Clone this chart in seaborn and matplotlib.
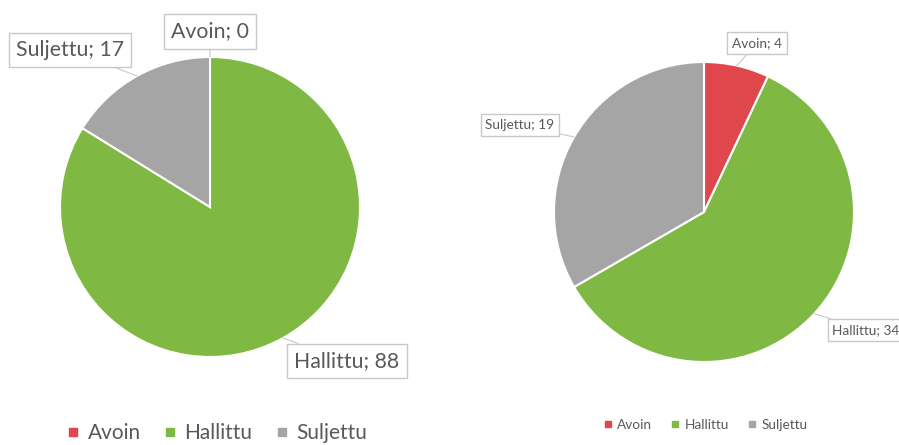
import numpy as np
import matplotlib
matplotlib.use("Agg")
import matplotlib.pyplot as plt
from matplotlib.lines import Line2D
import seaborn as sns

sns.set_style("white")
plt.rcParams["font.family"] = ["Lato", "DejaVu Sans"]

categories = ["Avoin", "Hallittu", "Suljettu"]
left_values = [0, 88, 17]
right_values = [4, 34, 19]
colors = ["#e0474c", "#7fb842", "#a5a5a5"]
text_color = "#595959"

W, H = 899, 445
fig = plt.figure(figsize=(W / 100, H / 100), dpi=100)


def px(x, y):
    return (x / W, 1 - y / H)


def pie_axes(cx, cy, r):
    return fig.add_axes([(cx - r) / W, 1 - (cy + r) / H, 2 * r / W, 2 * r / H])


def draw_pie(ax, values, label_pos, fontsize, pad):
    ax.pie(values, colors=colors, startangle=90, counterclock=False,
           wedgeprops=dict(edgecolor="white", linewidth=1.5))
    ax.set_xlim(-1, 1)
    ax.set_ylim(-1, 1)
    ax.set_aspect("equal")
    ax.axis("off")
    total = sum(values)
    start = 0.0
    for name, v, (tx, ty) in zip(categories, values, label_pos):
        mid = start + v / total / 2
        start += v / total
        ang = np.pi / 2 - 2 * np.pi * mid
        xy = (np.cos(ang), np.sin(ang))
        ax.annotate(f"{name}; {v}", xy=xy, xycoords="data",
                    xytext=px(tx, ty), textcoords="figure fraction",
                    ha="center", va="center", fontsize=fontsize, color=text_color,
                    bbox=dict(boxstyle=f"square,pad={pad}", fc="white", ec="#c8c8c8", lw=1),
                    arrowprops=dict(arrowstyle="-", color="#c8c8c8", lw=0.8,
                                    shrinkA=0, shrinkB=0),
                    annotation_clip=False)


def draw_legend(cx, cy, fontsize, msize, spacing):
    handles = [Line2D([], [], marker="s", linestyle="none", markersize=msize,
                      markerfacecolor=c, markeredgecolor=c) for c in colors]
    fig.legend(handles, categories, loc="center", bbox_to_anchor=px(cx, cy),
               ncol=3, frameon=False, fontsize=fontsize, labelcolor=text_color,
               handletextpad=0.3, columnspacing=spacing, handlelength=0.8)


axL = pie_axes(210, 207, 150)
draw_pie(axL, left_values, [(210, 31.5), (347, 361), (70, 50)], 15.3, 0.33)

axR = pie_axes(704, 212, 150)
draw_pie(axR, right_values, [(757, 43), (866, 330), (520, 125)], 9.8, 0.35)

draw_legend(216, 433, 15, 6, 1.0)
draw_legend(705, 425, 9.8, 4, 1.3)

fig.savefig("out.png", dpi=100, facecolor="white")
